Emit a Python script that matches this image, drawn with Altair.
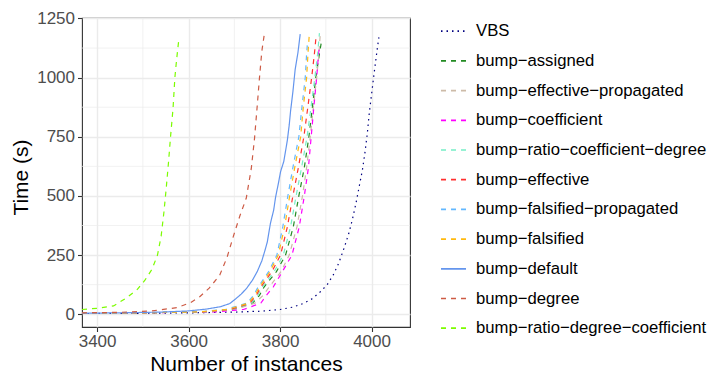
import altair as alt
import pandas as pd

# ---- data ----
series_names = [
    "VBS",
    "bump\u2212assigned",
    "bump\u2212effective\u2212propagated",
    "bump\u2212coefficient",
    "bump\u2212ratio\u2212coefficient\u2212degree",
    "bump\u2212effective",
    "bump\u2212falsified\u2212propagated",
    "bump\u2212falsified",
    "bump\u2212default",
    "bump\u2212degree",
    "bump\u2212ratio\u2212degree\u2212coefficient",
]

vbs_x = [3367, 3500, 3612, 3700, 3760, 3800, 3828, 3850, 3870, 3888, 3903, 3916, 3928, 3940, 3950, 3958, 3966, 3973, 3980, 3986, 3991, 3995, 4000, 4005, 4009, 4013, 4016]
vbs_y = [3, 4, 6, 9, 13, 20, 30, 45, 65, 95, 125, 165, 215, 280, 340, 400, 470, 540, 610, 690, 770, 850, 930, 1010, 1070, 1130, 1170]

assigned_x = [3367, 3500, 3640, 3697, 3740, 3755, 3765, 3792, 3812, 3829, 3841, 3853, 3863, 3871, 3878, 3886, 3890]
assigned_y = [4, 6, 10, 20, 47, 80, 115, 180, 250, 370, 500, 620, 750, 880, 1000, 1100, 1148]

effprop_x = [3367, 3500, 3645, 3702, 3745, 3763, 3776, 3802, 3820, 3837, 3849, 3858, 3866, 3873, 3880, 3885, 3888]
effprop_y = [4, 6, 10, 20, 47, 80, 115, 180, 250, 370, 500, 620, 750, 880, 1000, 1100, 1190]

coef_x = [3367, 3500, 3660, 3720, 3758, 3770, 3785, 3805, 3826, 3842, 3853, 3862, 3868, 3874, 3880, 3884, 3886]
coef_y = [4, 6, 10, 20, 47, 80, 115, 180, 250, 370, 500, 620, 750, 880, 1000, 1100, 1130]

rcd_x = [3367, 3500, 3635, 3693, 3737, 3751, 3761, 3787, 3807, 3823, 3835, 3847, 3859, 3868, 3876, 3882, 3886]
rcd_y = [4, 6, 10, 20, 47, 80, 115, 180, 250, 370, 500, 620, 750, 880, 1000, 1100, 1188]

eff_x = [3367, 3500, 3630, 3690, 3734, 3748, 3758, 3782, 3801, 3816, 3828, 3840, 3852, 3861, 3869, 3875, 3879]
eff_y = [4, 6, 10, 20, 47, 80, 115, 180, 250, 370, 500, 620, 750, 880, 1000, 1100, 1180]

falsprop_x = [3367, 3500, 3620, 3680, 3728, 3742, 3752, 3775, 3793, 3806, 3817, 3828, 3841, 3848, 3855, 3858, 3860]
falsprop_y = [4, 6, 10, 20, 47, 80, 115, 180, 250, 370, 500, 620, 750, 880, 1000, 1100, 1150]

fals_x = [3367, 3500, 3625, 3685, 3731, 3745, 3755, 3778, 3796, 3810, 3821, 3832, 3845, 3851, 3858, 3861, 3864]
fals_y = [4, 6, 10, 20, 47, 80, 115, 180, 250, 370, 500, 620, 750, 880, 1000, 1100, 1187]

default_x = [3367, 3450, 3540, 3600, 3640, 3670, 3690, 3703, 3715, 3727, 3740, 3750, 3760, 3767, 3772, 3779, 3786, 3790, 3797, 3801, 3808, 3812, 3816, 3820, 3823, 3828, 3833, 3839, 3844]
default_y = [4, 6, 9, 14, 22, 32, 45, 65, 85, 110, 145, 180, 225, 270, 305, 385, 440, 493, 560, 602, 645, 690, 737, 800, 860, 940, 1035, 1105, 1184]

degree_x = [3367, 3450, 3520, 3575, 3605, 3625, 3645, 3668, 3684, 3698, 3712, 3726, 3737, 3744, 3750, 3755, 3760, 3766]
degree_y = [6, 8, 14, 28, 50, 75, 110, 165, 240, 330, 415, 490, 615, 740, 880, 1000, 1110, 1190]

rdc_x = [3367, 3400, 3436, 3465, 3488, 3505, 3520, 3532, 3540, 3546, 3551, 3556, 3561, 3566, 3570, 3574, 3578]
rdc_y = [20, 25, 35, 70, 105, 145, 190, 250, 330, 430, 530, 640, 760, 870, 1000, 1080, 1150]

series_x = [vbs_x, assigned_x, effprop_x, coef_x, rcd_x, eff_x, falsprop_x, fals_x, default_x, degree_x, rdc_x]
series_y = [vbs_y, assigned_y, effprop_y, coef_y, rcd_y, eff_y, falsprop_y, fals_y, default_y, degree_y, rdc_y]

colors = ["#000080", "#228B22", "#CDBBA8", "#FF00FF", "#76EEC6", "#FF3030",
          "#63B8FF", "#FFB90F", "#6495ED", "#CD5B45", "#7CFC00"]
dashes = [[1.5, 4], [5, 5], [5, 5], [5, 5], [5, 5], [5, 5], [5, 5], [5, 5], [1, 0], [5, 5], [5, 5]]

x_ticks = [3400, 3600, 3800, 4000]
y_ticks = [0, 250, 500, 750, 1000, 1250]
x_minor = [3500, 3700, 3900]
y_minor = [125, 375, 625, 875, 1125]

rows = []
for name, xs, ys in zip(series_names, series_x, series_y):
    for i, (xv, yv) in enumerate(zip(xs, ys)):
        rows.append({"solver": name, "n": xv, "t": yv, "i": i})
df = pd.DataFrame(rows)

FONT = "Liberation Sans"
xscale = alt.Scale(domain=[3367, 4084], nice=False, zero=False)
yscale = alt.Scale(domain=[-54, 1252], nice=False, zero=False)

vminor = alt.Chart(pd.DataFrame({"v": x_minor})).mark_rule(
    color="#EBEBEB", strokeWidth=0.7).encode(x=alt.X("v:Q", scale=xscale))
hminor = alt.Chart(pd.DataFrame({"v": y_minor})).mark_rule(
    color="#EBEBEB", strokeWidth=0.7).encode(y=alt.Y("v:Q", scale=yscale))

lines = alt.Chart(df).mark_line(strokeWidth=1.2, clip=True).encode(
    x=alt.X("n:Q", scale=xscale,
            axis=alt.Axis(values=x_ticks, title="Number of instances",
                          titleX=164, titleY=43, titleBaseline="alphabetic",
                          titleAlign="center", format="d", labelPadding=2)),
    y=alt.Y("t:Q", scale=yscale,
            axis=alt.Axis(values=y_ticks, title="Time (s)",
                          titleX=-54.5, titleY=159, titleBaseline="alphabetic",
                          titleAlign="center", format="d")),
    color=alt.Color("solver:N", scale=alt.Scale(domain=series_names, range=colors),
                    sort=series_names,
                    legend=alt.Legend(title=None, orient="none", legendX=358, legendY=-0.3,
                                      padding=0,
                                      symbolType="stroke", symbolSize=625,
                                      symbolStrokeWidth=1.7, labelFontSize=16.7,
                                      labelFont=FONT, labelColor="#000000",
                                      labelOffset=9, rowPadding=6.7,
                                      labelLimit=400)),
    strokeDash=alt.StrokeDash("solver:N", scale=alt.Scale(domain=series_names, range=dashes),
                              sort=series_names, legend=None),
    order="i:Q",
)

chart = alt.layer(vminor, hminor, lines).properties(
    width=328, height=309,
    padding={"left": 74, "top": 10, "right": 302, "bottom": 48},
    autosize=alt.AutoSizeParams(type="none"),
).configure_view(
    stroke="#333333", strokeWidth=1.1
).configure_axis(
    domain=False, grid=True, gridColor="#EBEBEB", gridWidth=1.4,
    tickColor="#333333", tickSize=4.5, tickWidth=1.1,
    labelColor="#4D4D4D", labelFontSize=17, labelFont=FONT, labelPadding=3,
    titleFont=FONT, titleFontSize=21, titleFontWeight="normal", titleColor="#000000",
).configure_legend(
    labelFont=FONT
)

chart.save("out.html", embed_options={"renderer": "svg", "actions": False})
